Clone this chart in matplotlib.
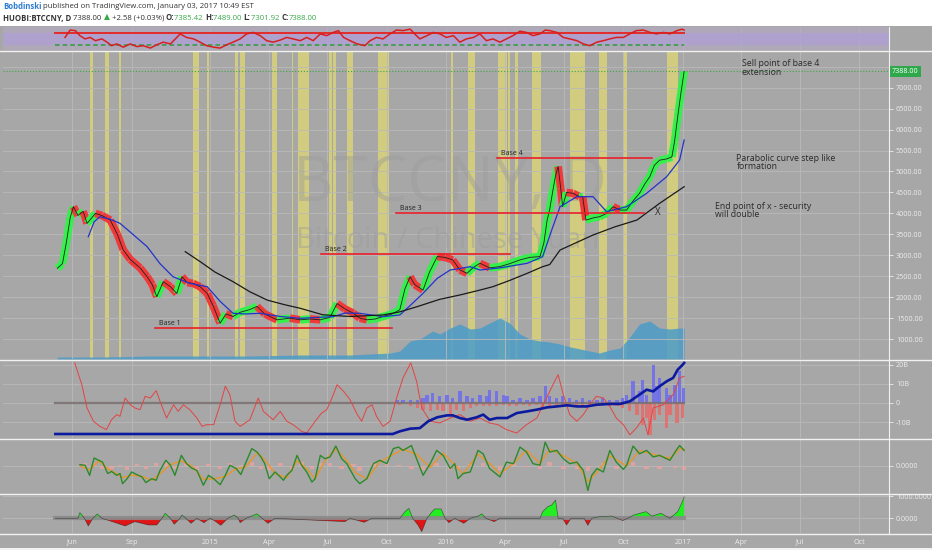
import numpy as np
import pandas as pd
import matplotlib
matplotlib.use('Agg')
import matplotlib.pyplot as plt
from matplotlib.collections import LineCollection
from matplotlib.patches import Rectangle
from matplotlib.lines import Line2D
import matplotlib.transforms as mtransforms

plt.rcParams['font.family'] = ['Open Sans', 'DejaVu Sans']

W, H = 932, 550
BASE = pd.Timestamp('2014-06-01')   # x axis = days since this date

# ---- price (daily close) ----
price_days = [-23, -15, -9, -3, 2, 9, 17, 23, 36, 46, 59, 70, 79, 90, 105, 116, 124, 131, 141, 152,
              162, 170, 178, 187, 198, 209, 218, 229, 238, 249, 260, 274, 286, 298, 317, 337, 353, 368,
              384, 399, 410, 422, 435, 445, 456, 469, 481, 495, 507, 515, 523, 530, 543, 553, 565, 577,
              589, 600, 611, 620, 631, 646, 662, 677, 693, 708, 724, 730, 735, 739, 744, 748, 752, 756,
              759, 765, 775, 785, 790, 795, 808, 816, 827, 837, 848, 858, 868, 878, 886, 894, 901, 909,
              920, 928, 932, 937, 942, 947]
price = [2690, 2800, 3300, 3900, 4160, 3950, 4050, 3760, 4000, 3950, 3840, 3500, 3130, 2900, 2700, 2490,
         2300, 2010, 2370, 2250, 2090, 2490, 2350, 2330, 2250, 2090, 1800, 1380, 1600, 1540, 1640, 1700,
         1780, 1600, 1460, 1500, 1460, 1480, 1460, 1520, 1850, 1720, 1620, 1500, 1460, 1480, 1540, 1600,
         1700, 2200, 2490, 2300, 2170, 2600, 2970, 2950, 2890, 2650, 2570, 2700, 2810, 2700, 2730, 2800,
         2890, 2950, 2970, 3300, 3840, 4100, 4560, 4900, 5120, 4600, 4160, 4500, 4480, 4400, 4400, 3840,
         3900, 3920, 4000, 4160, 4080, 4080, 4300, 4480, 4700, 4880, 5150, 5270, 5300, 5350, 5700, 6300,
         6870, 7388]

ma_long_days = [175, 198, 221, 249, 275, 302, 329, 353, 388, 430, 481, 507, 534, 569, 600, 631, 651, 677,
                704, 728, 739, 755, 806, 840, 874, 909, 947]
ma_long = [3086, 2850, 2600, 2370, 2130, 1930, 1820, 1735, 1580, 1540, 1576, 1650, 1775, 1950, 2053, 2170,
           2251, 2400, 2569, 2728, 2780, 3126, 3484, 3680, 3842, 4240, 4637]

ma_fast_days = [25, 34, 43, 59, 74, 94, 116, 136, 156, 182, 209, 229, 249, 268, 291, 322, 353, 404, 422,
                445, 481, 507, 523, 543, 565, 585, 616, 631, 662, 704, 728, 742, 755, 781, 806, 827, 858,
                889, 920, 940, 947]
ma_fast = [3444, 3800, 3921, 3860, 3763, 3500, 3206, 2800, 2489, 2330, 2251, 1900, 1616, 1600, 1616, 1540,
           1496, 1536, 1620, 1616, 1536, 1576, 1800, 2093, 2450, 2649, 2728, 2649, 2700, 2808, 2967, 3600,
           4160, 4399, 4399, 4041, 4160, 4480, 4876, 5274, 5752]

vol_days = [-23, 43, 121, 198, 275, 353, 430, 492, 507, 523, 538, 558, 569, 585, 600, 616, 631, 646, 662,
            677, 693, 708, 724, 739, 755, 771, 786, 801, 816, 832, 848, 863, 878, 894, 909, 925, 940, 947]
vol = [2, 2, 3, 3, 3, 4, 4, 6, 8, 18, 20, 28, 25, 31, 35, 30, 31, 36, 41, 36, 25, 20, 18, 17, 15, 12, 10,
       8, 6, 9, 11, 22, 35, 38, 31, 30, 31, 31]

# highlighted (yellow) periods, as date ranges
band_start = ['2014-06-28', '2014-07-22', '2014-08-12', '2014-12-05', '2014-12-27', '2015-02-08',
              '2015-02-15', '2015-04-07', '2015-05-07', '2015-05-16', '2015-07-03', '2015-07-09',
              '2015-08-01', '2015-09-17', '2016-01-09', '2016-02-03', '2016-03-21', '2016-04-05',
              '2016-04-16', '2016-05-12', '2016-07-10', '2016-08-25', '2016-09-30', '2016-12-07']
band_end = ['2014-07-03', '2014-07-28', '2014-08-15', '2014-12-14', '2014-12-30', '2015-02-12',
            '2015-02-23', '2015-04-14', '2015-05-08', '2015-06-02', '2015-07-08', '2015-07-14',
            '2015-08-09', '2015-10-04', '2016-01-12', '2016-02-14', '2016-04-04', '2016-04-08',
            '2016-04-21', '2016-05-27', '2016-08-02', '2016-09-05', '2016-10-06', '2016-12-24']

base_names = ['Base 1', 'Base 2', 'Base 3', 'Base 4']
base_level = [1258, 3031, 4017, 5315]
base_from = [128, 385, 501, 657]
base_to = [495, 677, 885, 897]

# ---- RSI strip ----
rsi_days = [-11, -3, 5, 12, 20, 28, 36, 46, 54, 61, 69, 79, 90, 100, 110, 121, 131, 141, 152, 162, 167,
            177, 188, 198, 208, 219, 229, 239, 249, 260, 270, 280, 291, 301, 311, 322, 332, 342, 353, 363,
            373, 384, 394, 404, 412, 420, 430, 441, 453, 461, 471, 481, 492, 502, 512, 523, 530, 538, 549,
            559, 569, 579, 590, 600, 610, 621, 631, 641, 651, 662, 672, 682, 693, 703, 713, 724, 732, 739,
            750, 760, 770, 781, 791, 801, 812, 822, 832, 842, 853, 863, 873, 884, 894, 904, 915, 925, 936,
            944, 947]
rsi = [54, 79, 77, 60, 49, 54, 43, 49, 38, 26, 32, 21, 32, 23, 26, 18, 29, 38, 32, 54, 66, 54, 49, 38, 26,
       21, 18, 29, 38, 49, 66, 71, 60, 43, 38, 45, 54, 49, 43, 54, 43, 66, 60, 71, 77, 54, 43, 32, 26, 43,
       54, 49, 66, 79, 77, 82, 66, 49, 60, 71, 66, 54, 60, 38, 49, 54, 66, 43, 49, 38, 49, 60, 75, 71, 60,
       66, 79, 77, 71, 54, 49, 43, 32, 26, 38, 43, 49, 54, 54, 66, 77, 79, 71, 66, 71, 66, 77, 82, 79]

# ---- money flow panel (billions) ----
osc_days = [4, 15, 23, 33, 43, 53, 61, 69, 74, 82, 90, 97, 105, 113, 121, 130, 136, 146, 157, 164, 172,
            182, 193, 201, 208, 219, 229, 237, 244, 252, 260, 275, 288, 296, 311, 322, 332, 342, 355, 363,
            376, 386, 394, 402, 410, 420, 430, 440, 448, 456, 464, 471, 481, 492, 502, 512, 524, 533, 541,
            554, 569, 585, 600, 616, 631, 646, 659, 672, 688, 703, 719, 734, 744, 752, 760, 770, 781, 791,
            801, 811, 822, 832, 842, 853, 863, 873, 884, 891, 899, 915, 930, 940, 947]
osc = [21.1, 9.6, -2.6, -9.6, -12.3, -14.0, -8.8, -6.1, -7.0, 2.6, -0.9, -2.6, -3.5, 3.5, 2.6, 6.5, 0.9,
       -7.9, -0.9, -4.4, -0.9, -3.5, -7.9, -12.3, -11.4, -11.4, -0.9, 8.8, 4.4, -9.6, -12.3, -8.8, 2.6,
       -4.4, -8.8, -4.4, -9.6, -11.4, -14.9, -15.8, -9.6, -5.3, -3.5, 2.6, 9.6, 6.1, 1.8, -5.3, -9.6, -2.6,
       -0.9, -7.0, -12.3, -9.6, 2.6, 13.2, 21.1, 11.4, -2.6, -9.6, -10.5, -7.9, -6.1, -9.6, -7.9, -10.5,
       -11.4, -14.0, -15.8, -11.4, -7.9, 2.6, 9.6, 14.9, 4.4, -6.1, -9.6, -6.1, -0.9, 3.5, 2.6, -1.8, -7.9,
       -11.4, -16.7, -13.2, -7.9, -16.7, -2.6, -0.9, 4.4, 13.2, 14.0]

obv_days = [-26, 496, 507, 523, 538, 551, 565, 580, 589, 600, 611, 626, 636, 646, 657, 673, 688, 704, 719,
            735, 750, 766, 781, 796, 812, 832, 848, 863, 878, 889, 899, 909, 920, 930, 937, 945, 947]
obv = [-16.3, -16.3, -14.9, -13.5, -13.2, -9.6, -7.5, -6.5, -6.5, -7.9, -8.8, -7.5, -6.1, -8.8, -7.9, -7.9,
       -5.3, -4.4, -3.5, -2.3, -1.8, -1.2, -1.8, -1.8, -0.9, -0.5, -0.5, 0.9, 4.4, 7.0, 6.1, 8.8, 11.4,
       13.2, 17.5, 20.2, 21.1]

buy_days = [503, 512, 523, 534, 543, 549, 558, 569, 580, 589, 600, 611, 620, 631, 642, 646, 657, 667, 673,
            682, 693, 704, 713, 724, 732, 739, 750, 759, 770, 781, 790, 801, 812, 821, 832, 843, 852, 858,
            868, 878, 883, 889, 899, 905, 909, 920, 925, 933, 940, 946]
buy = [1.5, 1.8, 1.5, 1.8, 2.6, 4.4, 5.3, 3.5, 4.4, 2.6, 6.1, 3.5, 2.6, 4.4, 3.5, 7.0, 6.1, 4.4, 3.5, 1.8,
       2.6, 1.8, 2.6, 3.5, 8.8, 3.5, 2.6, 3.5, 2.6, 1.8, 2.6, 1.8, 1.8, 2.6, 1.8, 1.8, 2.6, 4.4, 11.4, 6.1,
       12.3, 4.4, 20.2, 8.8, 13.2, 7.9, 4.4, 9.6, 16.7, 7.9]
sell_days = [507, 523, 534, 543, 554, 565, 574, 585, 595, 605, 616, 626, 636, 646, 657, 667, 677, 688, 698,
             708, 719, 728, 739, 750, 759, 770, 781, 790, 801, 812, 821, 832, 843, 852, 863, 874, 883, 889,
             894, 901, 909, 920, 925, 936, 945]
sell = [-1.0, -1.8, -2.6, -3.5, -4.4, -3.5, -4.4, -6.1, -3.5, -4.4, -2.6, -1.8, -1.8, -1.8, -1.8, -1.0,
        -1.8, -1.8, -1.0, -1.8, -1.0, -2.6, -1.8, -1.8, -1.0, -1.0, -1.0, -1.8, -1.0, -1.0, -1.0, -1.8, -1.8,
        -2.6, -4.4, -6.1, -11.4, -7.9, -16.7, -8.8, -6.1, -13.2, -6.1, -10.5, -7.9]

# ---- MACD-like panel ----
fast_days = [12, 20, 27, 34, 41, 47, 55, 61, 69, 74, 78, 85, 92, 100, 108, 114, 123, 130, 136, 145, 152,
             159, 169, 177, 185, 193, 203, 211, 219, 229, 237, 244, 254, 261, 268, 278, 286, 292, 298, 305,
             314, 322, 327, 332, 340, 348, 355, 363, 371, 376, 384, 391, 399, 408, 417, 425, 438, 445, 456,
             466, 476, 487, 497, 505, 512, 525, 533, 543, 554, 564, 574, 585, 592, 597, 605, 616, 628, 636,
             646, 662, 672, 683, 693, 703, 713, 724, 732, 739, 750, 760, 770, 781, 791, 798, 804, 812, 822,
             832, 842, 853, 858, 868, 878, 889, 899, 909, 925, 933, 940, 947]
fast = [0.05, 0.03, -0.36, 0.31, 0.22, 0.15, -0.29, -0.21, -0.36, -0.29, -0.68, -0.49, -0.23, -0.33, -0.42,
        -0.64, -0.49, -0.55, -0.17, 0.22, 0.03, -0.36, 0.41, 0.09, -0.08, -0.17, -0.74, -0.36, -0.49, -0.72,
        -0.36, 0.03, -0.10, -0.33, 0.09, 0.67, 0.54, 0.35, 0.09, -0.49, -0.23, -0.42, -0.55, -0.36, -0.17,
        0.41, 0.03, -0.23, -0.62, -0.49, 0.41, 0.28, 0.35, 0.77, 0.28, 0.09, -0.49, -0.68, -0.49, 0.09, 0.22,
        0.09, 0.67, 0.73, 0.60, 0.79, 0.28, -0.36, 0.09, 0.60, 0.41, -0.10, 0.09, -0.49, -0.29, -0.23, 0.60,
        0.47, -0.10, -0.42, 0.15, 0.09, 0.73, 0.54, 0.09, 0.03, 0.92, 0.54, 0.60, 0.28, 0.09, 0.15, -0.17,
        -0.94, -0.36, -0.10, -0.23, 0.60, 0.15, -0.13, 0.03, 0.77, 0.47, 0.60, 0.35, 0.41, 0.22, 0.54, 0.79,
        0.60]
slow_days = [12, 27, 41, 55, 69, 78, 92, 108, 123, 136, 152, 169, 185, 203, 219, 237, 254, 268, 286, 298,
             314, 332, 348, 363, 376, 391, 408, 425, 438, 456, 476, 497, 512, 533, 554, 574, 592, 605, 628,
             646, 662, 683, 703, 724, 739, 760, 781, 798, 812, 832, 858, 878, 899, 925, 940, 947]
slow = [0.00, -0.15, 0.20, -0.10, -0.30, -0.45, -0.35, -0.40, -0.55, -0.30, 0.05, 0.20, 0.00, -0.50, -0.50,
        -0.40, -0.10, -0.05, 0.50, 0.25, -0.30, -0.45, 0.20, -0.10, -0.50, 0.20, 0.65, 0.20, -0.25, -0.50,
        0.15, 0.45, 0.65, 0.45, -0.05, 0.50, 0.05, -0.30, 0.45, 0.10, -0.30, 0.10, 0.60, 0.10, 0.65, 0.40,
        0.10, -0.60, -0.25, 0.40, 0.00, 0.60, 0.45, 0.30, 0.65, 0.65]
hist_days = [20, 34, 47, 61, 74, 85, 100, 114, 130, 145, 159, 177, 193, 211, 229, 244, 261, 278, 292, 305,
             322, 340, 355, 371, 384, 399, 417, 435, 445, 466, 487, 505, 525, 543, 564, 585, 597, 616, 636,
             662, 683, 703, 724, 739, 760, 781, 798, 822, 842, 868, 889, 909, 933, 947]
hist = [0.10, 0.12, -0.10, -0.12, 0.05, -0.15, 0.08, -0.10, 0.10, 0.15, -0.12, 0.10, -0.15, 0.08, -0.10,
        0.12, 0.05, 0.15, -0.10, -0.15, 0.10, -0.12, 0.15, -0.12, 0.10, 0.10, -0.12, 0.08, -0.18, 0.12, 0.10,
        0.05, -0.10, -0.15, 0.12, -0.15, -0.10, 0.08, 0.12, -0.15, 0.10, -0.05, -0.10, 0.15, -0.10, -0.12,
        -0.20, 0.10, -0.12, 0.15, -0.10, -0.12, -0.08, -0.15]

# ---- bottom momentum panel ----
mom_days = [-26, 9, 12, 19, 25, 32, 39, 46, 59, 82, 97, 118, 131, 139, 144, 152, 158, 167, 170, 176, 184,
            193, 204, 213, 220, 230, 241, 251, 257, 260, 269, 286, 294, 303, 314, 422, 430, 452, 464, 507,
            515, 521, 527, 535, 541, 549, 557, 561, 571, 577, 583, 592, 606, 616, 628, 634, 640, 653, 662,
            724, 728, 736, 742, 748, 752, 759, 765, 772, 792, 798, 804, 817, 835, 852, 860, 869, 888, 897,
            911, 925, 937, 945, 947]
mom = [0, 0, 258, 0, -348, 0, 197, 0, -120, -348, -150, -303, -303, 0, 227, 0, -270, 0, 150, 0, -227, 0,
       -197, 0, -100, -318, 0, 150, 0, -197, 0, 200, 0, -227, 0, -150, 0, -180, 0, 0, 300, 455, 0, -300,
       -606, 0, 300, 424, 424, 0, -197, 0, -227, 0, 100, 200, 0, -150, 0, 0, 300, 530, 600, 833, 0, 0,
       -303, 0, 0, -318, 0, 80, 100, -100, 0, 150, 303, 100, 227, 0, 300, 800, 985]

tick_dates = ['2014-06-01', '2014-09-01', '2015-01-01', '2015-04-01', '2015-07-01', '2015-10-01',
              '2016-01-01', '2016-04-01', '2016-07-01', '2016-10-01', '2017-01-01', '2017-04-01',
              '2017-07-01', '2017-10-01']
tick_labels = ['Jun', 'Sep', '2015', 'Apr', 'Jul', 'Oct', '2016', 'Apr', 'Jul', 'Oct', '2017', 'Apr',
               'Jul', 'Oct']


def days(d):
    return (pd.Timestamp(d) - BASE).days


BG = '#a7a7a7'
GRID = '#b9b9b9'
LBL = '#ececec'
XMIN, XMAX = -107, 1264
ticks_x = [days(d) for d in tick_dates]

fig = plt.figure(figsize=(W / 100, H / 100), dpi=100, facecolor=BG)


def rect(top, bottom):
    return [3 / W, 1 - bottom / H, 886 / W, (bottom - top) / H]


def style(ax, ylim, yt, ylabels):
    ax.set_facecolor(BG)
    ax.set_xlim(XMIN, XMAX)
    ax.set_ylim(*ylim)
    for s in ax.spines.values():
        s.set_visible(False)
    ax.set_xticks(ticks_x)
    ax.set_xticklabels([])
    ax.tick_params(axis='x', length=0)
    ax.yaxis.tick_right()
    ax.set_yticks(yt)
    ax.set_yticklabels(ylabels)
    ax.tick_params(axis='y', length=3, width=0.6, color=LBL, pad=2, labelsize=5.2, labelcolor=LBL)
    ax.grid(True, color=GRID, lw=0.6)
    ax.set_axisbelow(True)


# top RSI strip
ax1 = fig.add_axes(rect(27, 50))
style(ax1, (11.4, 89.3), [], [])
ax1.axhspan(11.4, 89.3, color='#b4aac8', alpha=0.55, lw=0)
ax1.axhspan(30, 70, color='#b09fd6', alpha=0.7, lw=0)
ax1.plot([-26, 947], [70, 70], color='#e32b2b', lw=1.4)
ax1.plot([-26, 947], [30, 30], color='#2f9a3c', lw=1.1, ls=(0, (3, 2)))
ax1.plot(rsi_days, rsi, color='#d81f1f', lw=1.1)

# main price panel (volume underneath on its own scale)
axv = fig.add_axes(rect(52, 359))
style(axv, (0, 307), [], [])
axv.grid(False)
for s, e in zip(band_start, band_end):
    axv.axvspan(days(s), days(e), color='#e3dc6e', alpha=0.7, lw=0)
axv.fill_between(vol_days, vol, color='#4c9cc8', alpha=0.85, lw=0)

ax = fig.add_axes(rect(52, 359))
ylev = list(range(1000, 8000, 500))
style(ax, (525, 7852), ylev, [f'{v}.00' if v != 7500 else '' for v in ylev])
ax.patch.set_visible(False)
ax.text(days('2016-01-07'), 4673, 'BTCCNY, D', fontsize=45, color='#9c9c9c', alpha=0.45,
        ha='center', va='center', zorder=1)
ax.text(days('2016-01-03'), 3362, 'Bitcoin / Chinese Yuan', fontsize=21, color='#9c9c9c', alpha=0.45,
        ha='center', va='center', zorder=1)
ax.axhline(7388, color='#3da848', lw=0.8, ls=':', zorder=2)

pts = np.column_stack([price_days, price])
segs = np.stack([pts[:-1], pts[1:]], axis=1)
cols = ['#33f04a' if b >= a else '#f03a3a' for a, b in zip(price[:-1], price[1:])]
ax.add_collection(LineCollection(segs, colors=cols, linewidths=5.5, zorder=3))
ax.plot(price_days, price, color='#202020', lw=0.6, zorder=4)
ax.plot(ma_fast_days, ma_fast, color='#2233cc', lw=0.9, zorder=4)
ax.plot(ma_long_days, ma_long, color='#1a1a1a', lw=0.9, zorder=4)

for name, lvl, a, b in zip(base_names, base_level, base_from, base_to):
    ax.plot([a, b], [lvl, lvl], color='#e8202a', lw=1.2, zorder=5)
    ax.text(a + 6, lvl + 110, name, fontsize=5, color='#222222', ha='left', va='center', zorder=5)

note_kw = dict(fontsize=6.3, color='#2a2a2a', ha='left', va='center', zorder=5)
ax.text(1036, 7566, 'Sell point of base 4', **note_kw)
ax.text(1036, 7358, 'extension', **note_kw)
ax.text(1028, 5315, 'Parabolic curve step like', **note_kw)
ax.text(1028, 5115, 'formation', **note_kw)
ax.text(994, 4160, 'End point of x - security', **note_kw)
ax.text(994, 3962, 'will double', **note_kw)
ax.text(906, 4017, 'X', fontsize=7, color='#2a2a2a', ha='center', va='center', zorder=5)

tr = mtransforms.blended_transform_factory(ax.transAxes, ax.transData)
ax.text(1.0035, 7388, '7388.00', transform=tr, fontsize=5.2, color='white', ha='left', va='center',
        clip_on=False, zorder=10,
        bbox=dict(boxstyle='square,pad=0.25', fc='#2ea84a', ec='none'))

# money flow panel
ax3 = fig.add_axes(rect(360, 438))
style(ax3, (-18.4, 22.6), [20, 10, 0, -10], ['20B', '10B', '0', '-10B'])
ax3.plot([-26, 947], [0, 0], color='#7a6f6f', lw=1.6, alpha=0.85)
ax3.bar(buy_days, buy, width=5, color='#6b6bf0', alpha=0.85, lw=0)
ax3.bar(sell_days, sell, width=5, color='#f06464', alpha=0.75, lw=0)
ax3.plot(osc_days, osc, color='#e24444', lw=0.7)
ax3.plot(obv_days, obv, color='#0c1a9e', lw=1.9)

# oscillator panel
ax4 = fig.add_axes(rect(439, 493))
style(ax4, (-1.04, 1.04), [0], ['0.0000'])
ax4.bar(hist_days, hist, width=7, color='#eba3a3', alpha=0.8, lw=0)
ax4.plot(slow_days, slow, color='#e8962a', lw=1.0)
ax4.plot(fast_days, fast, color='#2b8a2b', lw=1.0)

# momentum panel
ax5 = fig.add_axes(rect(494, 533))
style(ax5, (-668, 1105), [1000, 0], ['1000.0000', '0.0000'])
m = np.array(mom, dtype=float)
ax5.plot([-26, 947], [0, 0], color='#8a8a8a', lw=3, alpha=0.9)
ax5.fill_between(mom_days, m, 0, where=m >= 0, interpolate=True, color='#22ee22', lw=0)
ax5.fill_between(mom_days, m, 0, where=m <= 0, interpolate=True, color='#e01414', lw=0)
ax5.plot(mom_days, m, color='#1e1e1e', lw=0.5, alpha=0.6)
ax5.set_xticklabels(tick_labels)
ax5.tick_params(axis='x', labelsize=5.2, labelcolor=LBL, pad=4)

# separators, header and footer
for yy in [50.5, 359.5, 438.5, 493.5, 533.5]:
    fig.add_artist(Line2D([0, 1], [1 - yy / H, 1 - yy / H], color='#f2f2f2', lw=1.0))
fig.add_artist(Line2D([889 / W, 889 / W], [1 - 533 / H, 1 - 27 / H], color='#f2f2f2', lw=0.8))
fig.patches.append(Rectangle((0, 1 - 26 / H), 1, 26 / H, transform=fig.transFigure, fc='white', ec='none'))
fig.patches.append(Rectangle((0, 0), 1, 2.5 / H, transform=fig.transFigure, fc='#f2f2f2', ec='none'))

renderer = fig.canvas.get_renderer()


def runs(x, y, parts, size=5.6):
    for s, c, w in parts:
        t = fig.text(x / W, 1 - y / H, s, color=c, fontweight=w, fontsize=size, ha='left', va='center')
        x += t.get_window_extent(renderer).width


DK = '#333333'
GR = '#3aa84a'
runs(3, 6.5, [('Bobdinski', '#2c7bd1', 'bold'),
              (' published on TradingView.com, January 03, 2017 10:49 EST', DK, 'normal')])
runs(3, 18, [('HUOBI:BTCCNY, D', DK, 'bold'), (' 7388.00 ', DK, 'normal'), ('▲', GR, 'normal'),
             (' +2.58 (+0.03%) ', DK, 'normal'), ('O:', DK, 'bold'), ('7385.42 ', GR, 'normal'),
             ('H:', DK, 'bold'), ('7489.00 ', GR, 'normal'), ('L:', DK, 'bold'), ('7301.92 ', GR, 'normal'),
             ('C:', DK, 'bold'), ('7388.00', GR, 'normal')])

fig.savefig('out.png', dpi=100, facecolor=fig.get_facecolor())
